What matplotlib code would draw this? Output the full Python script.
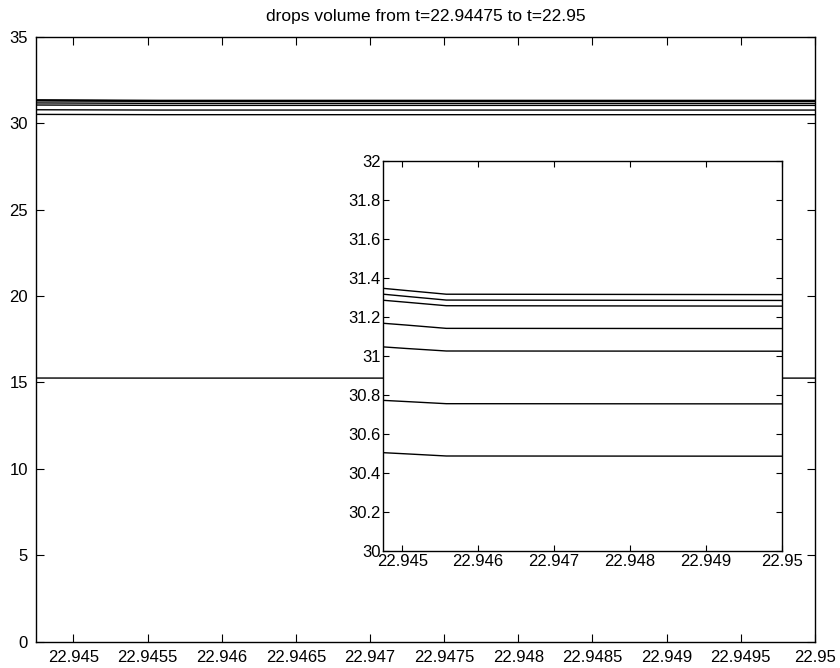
import numpy as np
import matplotlib.pyplot as plt
from matplotlib.ticker import FormatStrFormatter

plt.rcParams['font.family'] = ['Liberation Sans', 'DejaVu Sans']
plt.rcParams['font.size'] = 12

# time samples and volume of each drop
t = [22.94475, 22.94505, 22.94558, 22.95]
drop_volumes = [
    [31.346, 31.335, 31.316, 31.314],
    [31.316, 31.305, 31.286, 31.284],
    [31.285, 31.275, 31.257, 31.255],
    [31.167, 31.158, 31.141, 31.140],
    [31.046, 31.038, 31.025, 31.024],
    [30.772, 30.766, 30.755, 30.754],
    [30.504, 30.498, 30.487, 30.486],
    [15.252, 15.250, 15.248, 15.248],
]
main_xticks = np.round(np.arange(22.945, 22.95001, 0.0005), 4)
inset_xticks = np.round(np.arange(22.945, 22.95001, 0.001), 3)

fig = plt.figure(figsize=(8.4, 6.68), dpi=100)
ax = fig.add_axes([0.0433, 0.0394, 0.9267, 0.9057])
for v in drop_volumes:
    ax.plot(t, v, color='black', lw=1.0)
ax.set_xlim(22.94475, 22.95)
ax.set_ylim(0, 35)
ax.set_xticks(main_xticks)
ax.set_xticklabels([f'{x:g}' for x in main_xticks])
ax.set_yticks(range(0, 36, 5))
ax.tick_params(direction='in', length=6, top=True, right=True, width=0.8, pad=6)
ax.set_title('drops volume from t=22.94475 to t=22.95', fontsize=12.5, pad=11)

ins = fig.add_axes([0.4563, 0.1751, 0.4743, 0.5843])
for v in drop_volumes:
    ins.plot(t, v, color='black', lw=1.0)
ins.set_xlim(22.94475, 22.95)
ins.set_ylim(30, 32)
ins.set_xticks(inset_xticks)
ins.set_xticklabels([f'{x:g}' for x in inset_xticks])
ins.set_yticks(np.round(np.arange(30, 32.01, 0.2), 1))
ins.yaxis.set_major_formatter(FormatStrFormatter('%g'))
ins.tick_params(direction='in', length=4, top=True, right=True, width=0.8, pad=2)

for a in (ax, ins):
    for s in a.spines.values():
        s.set_linewidth(1.0)

fig.savefig('out.png', dpi=100)
